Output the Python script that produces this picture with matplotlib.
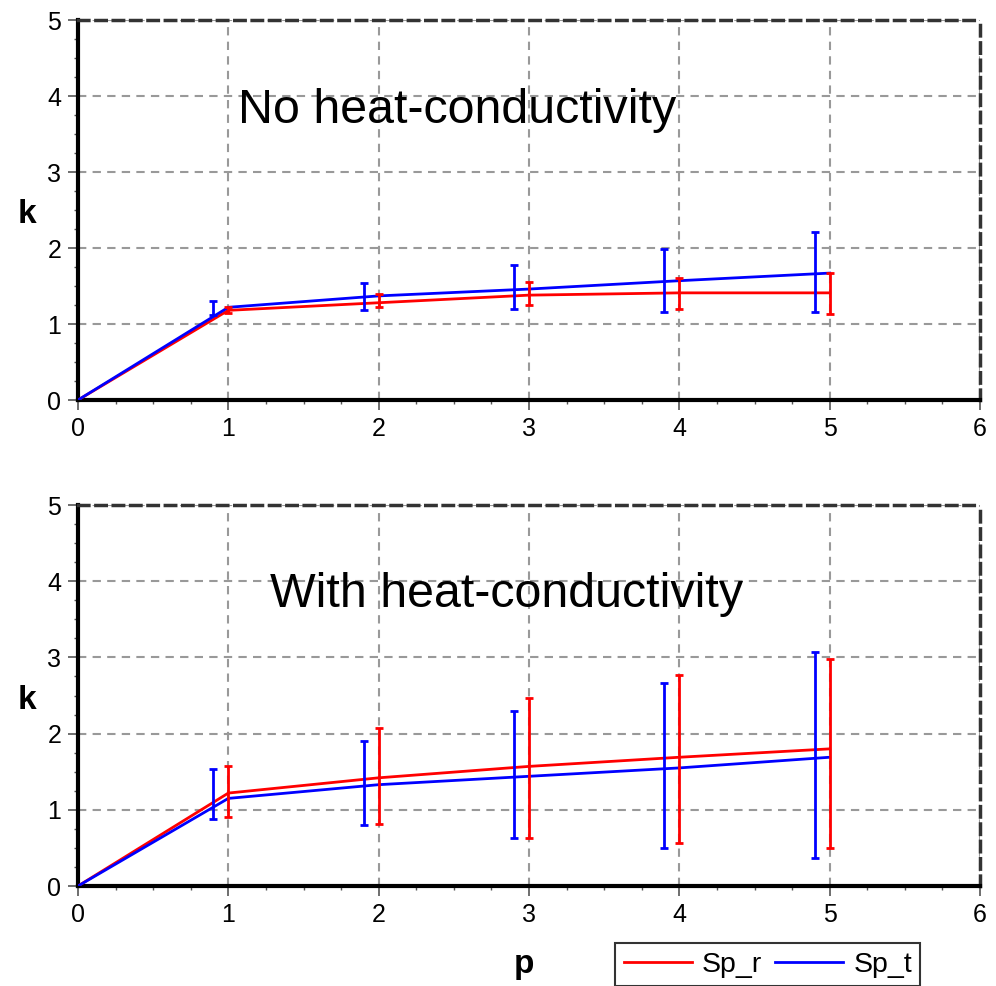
import numpy as np
import matplotlib.pyplot as plt
from matplotlib.ticker import MultipleLocator

plt.rcParams['font.family'] = ['Liberation Sans', 'DejaVu Sans']

# data
p = [0, 1, 2, 3, 4, 5]
offset = 0.1  # Sp_t error bars sit a little left of each p

# top panel: no heat-conductivity
top_r = [0.0, 1.18, 1.28, 1.38, 1.41, 1.41]
top_r_lo = [0.0, 1.14, 1.22, 1.25, 1.20, 1.13]
top_r_hi = [0.0, 1.22, 1.40, 1.55, 1.60, 1.67]
top_t = [0.0, 1.22, 1.37, 1.46, 1.57, 1.67]
top_t_c = [0.0, 1.13, 1.35, 1.45, 1.56, 1.66]
top_t_lo = [0.0, 1.12, 1.19, 1.20, 1.16, 1.16]
top_t_hi = [0.0, 1.30, 1.54, 1.78, 1.99, 2.21]

# bottom panel: with heat-conductivity
bot_r = [0.0, 1.22, 1.42, 1.57, 1.69, 1.80]
bot_r_lo = [0.0, 0.90, 0.82, 0.63, 0.56, 0.50]
bot_r_hi = [0.0, 1.57, 2.08, 2.47, 2.77, 2.98]
bot_t = [0.0, 1.15, 1.33, 1.44, 1.55, 1.69]
bot_t_c = [0.0, 1.07, 1.32, 1.45, 1.55, 1.68]
bot_t_lo = [0.0, 0.88, 0.80, 0.63, 0.50, 0.37]
bot_t_hi = [0.0, 1.54, 1.90, 2.30, 2.66, 3.07]

titles = ['No heat-conductivity', 'With heat-conductivity']
title_pos = [(2.52, 3.64), (2.85, 3.66)]

RED = '#ff0000'
BLUE = '#0000ff'

fig = plt.figure(figsize=(9.96, 9.86), dpi=100)
ax1 = fig.add_axes([0.0783, 0.5943, 0.9057, 0.3854])
ax2 = fig.add_axes([0.0783, 0.1014, 0.9057, 0.3864])

panels = [
    (ax1, top_r, top_r_lo, top_r_hi, top_t, top_t_c, top_t_lo, top_t_hi),
    (ax2, bot_r, bot_r_lo, bot_r_hi, bot_t, bot_t_c, bot_t_lo, bot_t_hi),
]

for i, (ax, r, rlo, rhi, t, tc, tlo, thi) in enumerate(panels):
    x = np.array(p[1:])
    ax.plot(p, r, color=RED, lw=2, label='Sp_r', zorder=3)
    ax.plot(p, t, color=BLUE, lw=2, label='Sp_t', zorder=3)
    rc = np.array(r[1:])
    ax.errorbar(x, rc,
                yerr=[rc - np.array(rlo[1:]), np.array(rhi[1:]) - rc],
                fmt='none', ecolor=RED, elinewidth=2, capsize=3, capthick=2, zorder=4)
    tcc = np.array(tc[1:])
    ax.errorbar(x - offset, tcc,
                yerr=[tcc - np.array(tlo[1:]), np.array(thi[1:]) - tcc],
                fmt='none', ecolor=BLUE, elinewidth=2, capsize=3, capthick=2, zorder=4)

    ax.set_xlim(0, 6)
    ax.set_ylim(0, 5)
    ax.xaxis.set_major_locator(MultipleLocator(1))
    ax.yaxis.set_major_locator(MultipleLocator(1))
    ax.xaxis.set_minor_locator(MultipleLocator(0.25))
    ax.yaxis.set_minor_locator(MultipleLocator(0.25))
    ax.tick_params(which='major', direction='out', length=7, width=1.2,
                   color='#555555', labelsize=18, pad=5)
    ax.tick_params(which='minor', direction='out', length=3, width=1,
                   color='#555555')
    ax.grid(True, which='major', color='#999999', ls=(0, (4, 3)), lw=1.5, zorder=1)

    for side in ['left', 'bottom']:
        ax.spines[side].set_linewidth(3)
        ax.spines[side].set_color('black')
    for side in ['top', 'right']:
        ax.spines[side].set_linewidth(2.5)
        ax.spines[side].set_color('#333333')
        ax.spines[side].set_linestyle((0, (3, 2)))

    ax.set_ylabel('k', fontsize=24, fontweight='bold', rotation=0,
                  ha='center', va='center')
    ax.yaxis.set_label_coords(-0.057, 0.487)
    ax.text(title_pos[i][0], title_pos[i][1], titles[i], fontsize=34.8,
            ha='center', va='baseline', zorder=5)

ax2.set_xlabel('p', fontsize=24, fontweight='bold', va='center')
ax2.xaxis.set_label_coords(0.494, -0.207)

leg = ax2.legend(loc='upper left', bbox_to_anchor=(615 / 996, 1 - 943 / 986),
                 bbox_transform=fig.transFigure, ncol=2, fontsize=20.5,
                 frameon=True, fancybox=False, shadow=False, handlelength=2.4,
                 columnspacing=0.45, handletextpad=0.35, borderpad=0.3,
                 borderaxespad=0)
leg.get_frame().set_edgecolor('black')
leg.get_frame().set_linewidth(1.5)

fig.savefig('out.png', dpi=100)
